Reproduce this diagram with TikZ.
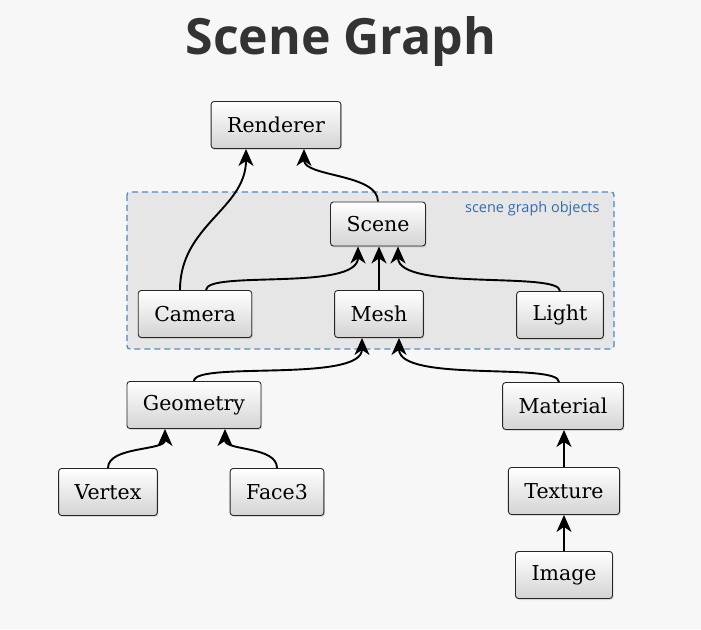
\documentclass[tikz,border=0pt]{standalone}
\usepackage{fontspec}
\setmainfont{DejaVu Serif}
\newfontfamily\titlefont{Open Sans}
\usetikzlibrary{arrows.meta,shadows}
\definecolor{bgc}{HTML}{F7F7F7}
\definecolor{regionc}{HTML}{E6E6E6}
\definecolor{dashc}{HTML}{4A8BC6}
\definecolor{labc}{HTML}{2E6DB4}
\definecolor{titlec}{HTML}{333333}
\tikzset{
  box/.style={draw=black!85, line width=0.9pt, rounded corners=3pt,
    top color=white, bottom color=black!17, minimum height=47pt,
    inner xsep=16pt, font=\fontsize{20.5}{24}\selectfont,
    drop shadow={shadow xshift=1pt, shadow yshift=-1.5pt, opacity=0.25}},
  bigtip/.tip={Stealth[length=17pt,width=15pt,inset=5pt]},
  arr/.style={line width=1.9pt, arrows={-bigtip}},
}
\begin{document}
\begin{tikzpicture}[x=1pt,y=1pt]
\useasboundingbox (0,0) rectangle (701,629);
\fill[bgc] (0,0) rectangle (701,629);
\node[font=\titlefont\bfseries\fontsize{50}{58}\selectfont, text=titlec] (title) at (341,587) {Scene Graph};
\draw[fill=regionc, draw=dashc, line width=1.3pt, dash pattern=on 6pt off 4pt, rounded corners=3pt] (127,437) rectangle (614,280);
\node[anchor=east, text=labc, font=\titlefont\fontsize{14.5}{16}\selectfont] (lab) at (603,420) {scene graph objects};
\node[box] (renderer) at (276,504) {Renderer};
\node[box, minimum height=44pt] (scene) at (378,405) {Scene};
\node[box] (camera) at (195,315) {Camera};
\node[box] (mesh) at (379,315) {Mesh};
\node[box] (light) at (560,314) {Light};
\node[box] (geometry) at (194,224) {Geometry};
\node[box] (vertex) at (108,137) {Vertex};
\node[box] (face) at (277,137) {Face3};
\node[box] (material) at (563,223) {Material};
\node[box] (texture) at (564,138) {Texture};
\node[box] (image) at (564,54) {Image};
% connectors
\draw[arr] ([xshift=-15pt]camera.north) .. controls +(0,65) and +(0,-60) .. ([xshift=-30pt]renderer.south);
\draw[arr] (scene.north) .. controls +(0,28) and +(0,-28) .. ([xshift=28pt]renderer.south);
\draw[arr] ([xshift=11pt]camera.north) .. controls +(0,20) and +(0,-45) .. ([xshift=-20pt]scene.south);
\draw[arr] (mesh.north) -- (mesh.north |- scene.south);
\draw[arr] (light.north) .. controls +(0,20) and +(0,-45) .. ([xshift=20pt]scene.south);
\draw[arr] (geometry.north) .. controls +(0,20) and +(0,-45) .. ([xshift=-17pt]mesh.south);
\draw[arr] ([xshift=-4pt]material.north) .. controls +(0,20) and +(0,-45) .. ([xshift=20pt]mesh.south);
\draw[arr] (vertex.north) .. controls +(0,22) and +(0,-22) .. ([xshift=-29pt]geometry.south);
\draw[arr] (face.north) .. controls +(0,22) and +(0,-22) .. ([xshift=31pt]geometry.south);
\draw[arr] (texture.north) -- (texture.north |- material.south);
\draw[arr] (image.north) -- (image.north |- texture.south);
\end{tikzpicture}
\end{document}
